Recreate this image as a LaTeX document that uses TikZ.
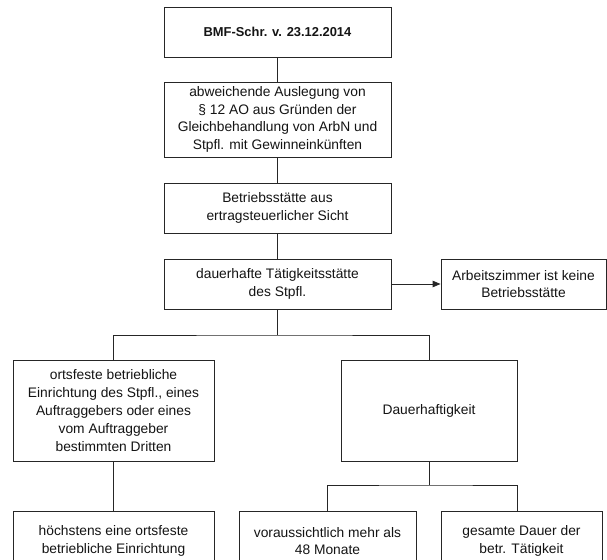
\documentclass[tikz,border=0pt]{standalone}
\usepackage{fontspec}
\setmainfont{Liberation Sans}
\usetikzlibrary{arrows.meta}
\definecolor{ink}{HTML}{262626}
\definecolor{txt}{HTML}{141414}
\begin{document}
\begin{tikzpicture}[x=1bp,y=-1bp,
  box/.style={draw=ink, line width=0.9bp, fill=white, text=txt, align=center,
    inner sep=0pt, font=\fontsize{13.8bp}{17.8bp}\selectfont},
  link/.style={draw=ink, line width=0.9bp},
  arrowlink/.style={link, -{Triangle[length=8bp,width=6.5bp]}}]
\useasboundingbox (0,0) rectangle (607,560);
\clip (0,0) rectangle (607,560);
\fill[white] (0,0) rectangle (607,560);

% main column
\node[box, minimum width=227bp, minimum height=50bp,
      font=\fontsize{12.9bp}{17bp}\selectfont\bfseries] (b1) at (277.5,32)
  {BMF-Schr. v. 23.12.2014};
\node[box, minimum width=227bp, minimum height=75bp] (b2) at (277.5,119.5)
  {abweichende Auslegung von\\ § 12 AO aus Gründen der\\ Gleichbehandlung von ArbN und\\ Stpfl. mit Gewinneinkünften};
\node[box, minimum width=227bp, minimum height=50bp] (b3) at (277.5,208)
  {Betriebsstätte aus\\ ertragsteuerlicher Sicht};
\node[box, minimum width=227bp, minimum height=50bp] (b4) at (277.5,284)
  {dauerhafte Tätigkeitsstätte\\ des Stpfl.};
\node[box, minimum width=165bp, minimum height=50bp] (b5) at (523.5,284)
  {Arbeitszimmer ist keine\\ Betriebsstätte};

% second level
\node[box, minimum width=201bp, minimum height=101bp] (b6) at (113.5,410.5)
  {ortsfeste betriebliche\\ Einrichtung des Stpfl., eines\\ Auftraggebers oder eines\\ vom Auftraggeber\\ bestimmten Dritten};
\node[box, minimum width=176bp, minimum height=101bp] (b7) at (429,410.5)
  {Dauerhaftigkeit};

% third level (boxes run past the lower edge)
\node[box, minimum width=201bp, minimum height=60bp] (b8) at (113.5,541)
  {höchstens eine ortsfeste\\ betriebliche Einrichtung};
\node[box, minimum width=177bp, minimum height=60bp] (b9) at (327.5,541)
  {voraussichtlich mehr als\\ 48 Monate};
\node[box, minimum width=161bp, minimum height=60bp] (b10) at (521.5,541)
  {gesamte Dauer der\\ betr. Tätigkeit};

% connectors
\draw[link] (b1.south) -- (b2.north);
\draw[link] (b2.south) -- (b3.north);
\draw[link] (b3.south) -- (b4.north);
\draw[arrowlink] (b4.east) -- (b5.west);

\coordinate (j1) at (277.5,335);
\draw[link] (b4.south) -- (j1);
\draw[link] (b6.north) |- (j1) -| (b7.north);

\draw[link] (b6.south) -- (b8.north);

\coordinate (j2) at (429,485);
\draw[link] (b7.south) -- (j2);
\draw[link] (b9.north) |- (j2) -| ([xshift=-4bp]b10.north);
\end{tikzpicture}
\end{document}
